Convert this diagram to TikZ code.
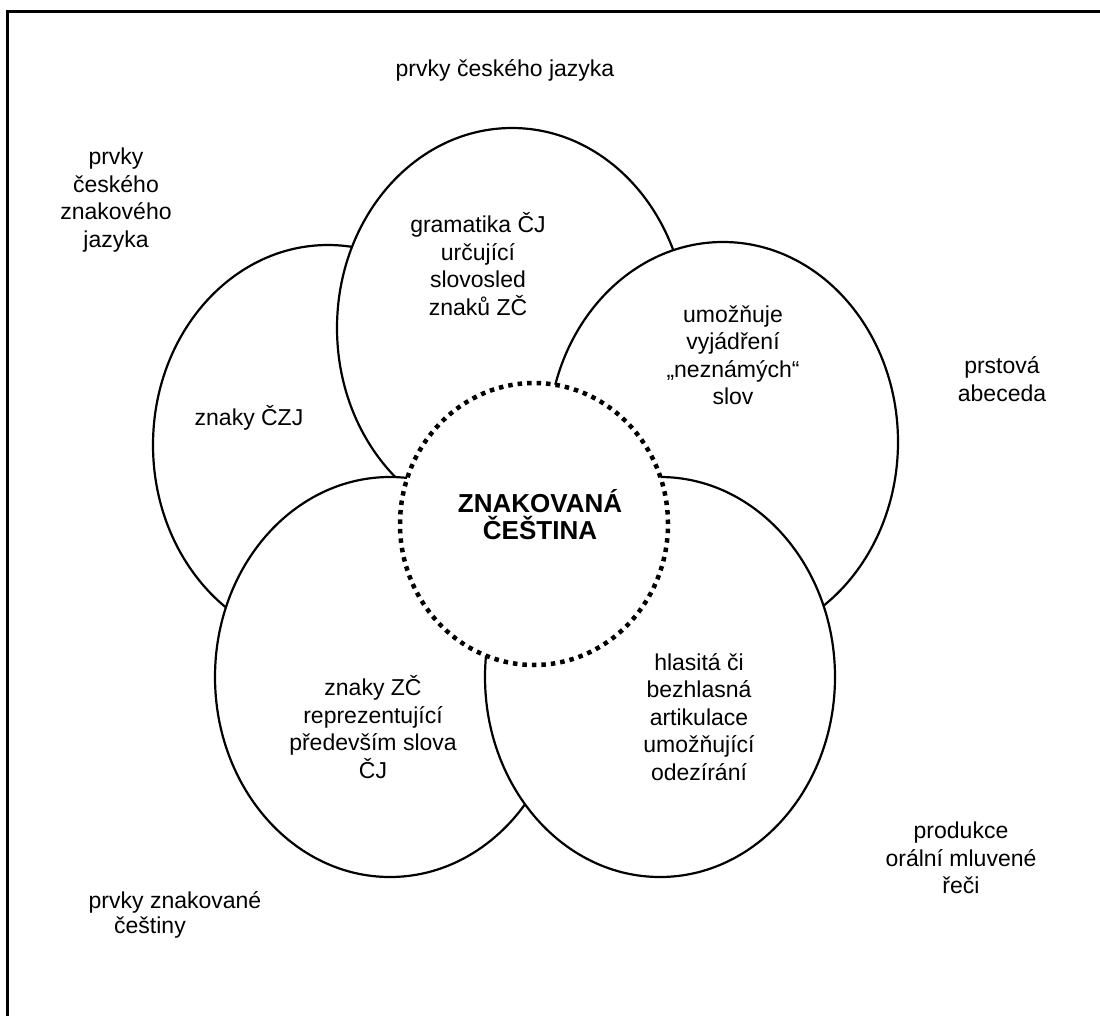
\documentclass[tikz,border=0pt]{standalone}
\usepackage{fontspec}
\setmainfont{Liberation Sans}
\usetikzlibrary{shapes.geometric}
\begin{document}
\begin{tikzpicture}[x=1pt,y=-1pt,
  petal/.style={ellipse,draw,fill=white,line width=2.2pt,minimum width=350pt,minimum height=400pt,inner sep=0pt},
  core/.style={ellipse,draw,fill=white,line width=4.5pt,dash pattern=on 4.5pt off 5pt,minimum width=268pt,minimum height=282pt,inner sep=0pt},
  lbl/.style={align=center,font=\fontsize{23}{27.5}\selectfont,inner sep=0pt},
  big/.style={align=center,font=\fontsize{26}{27}\selectfont\bfseries,inner sep=0pt}]
\useasboundingbox (0,0) rectangle (1100,1016);
\fill[white] (0,0) rectangle (1100,1016);
\draw[line width=3pt] (7,1016) -- (7,12) -- (1100,12);
% petals
\node[petal] (pl) at (328,445) {};
\node[petal] (pt) at (512,328) {};
\node[petal] (pr) at (723,442) {};
\node[petal] (pbl) at (390,677) {};
\node[petal] (pbr) at (660,677) {};
\node[core] (c) at (534,524) {};
% labels
\node[lbl] (t1) at (505,70) {prvky českého jazyka};
\node[lbl] (t2) at (116,200) {prvky\\českého\\znakového\\jazyka};
\node[lbl] (t3) at (478,264) {gramatika ČJ\\určující\\slovosled\\znaků ZČ};
\node[lbl] (t4) at (733,355) {umožňuje\\vyjádření\\„neznámých“\\slov};
\node[lbl] (t5) at (1002,379) {prstová\\abeceda};
\node[lbl] (t6) at (249,418) {znaky ČZJ};
\node[big] (t7) at (540,515) {ZNAKOVANÁ\\ČEŠTINA};
\node[lbl] (t8) at (373,727) {znaky ZČ\\reprezentující\\především slova\\ČJ};
\node[lbl] (t9) at (699,717) {hlasitá či\\bezhlasná\\artikulace\\umožňující\\odezírání};
\node[lbl] (t10) at (961,858) {produkce\\orální mluvené\\řeči};
\node[lbl] (t11) at (175,902) {prvky znakované};
\node[lbl] (t12) at (150,928) {češtiny};
\end{tikzpicture}
\end{document}
